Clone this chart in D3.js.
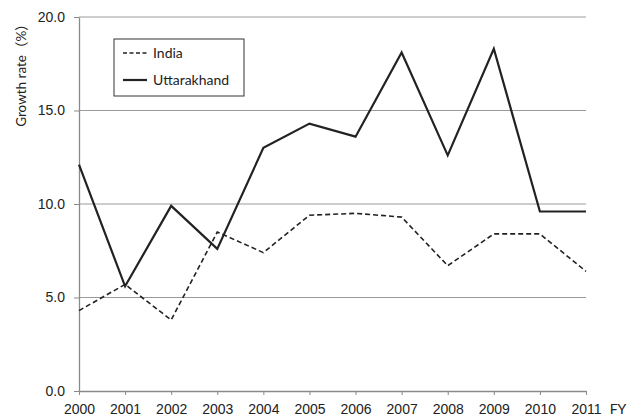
<!DOCTYPE html>
<html>
<head>
<meta charset="utf-8">
<script src="https://cdn.jsdelivr.net/npm/d3@7"></script>
<style>
  body { margin: 0; background: #fff; }
  svg { font-family: Lato, "Open Sans", "Noto Sans CJK JP", sans-serif; }
</style>
</head>
<body>
<svg id="chart"></svg>
<script>
const years = ["2000", "2001", "2002", "2003", "2004", "2005", "2006", "2007", "2008", "2009", "2010", "2011"];
const india = [4.3, 5.7, 3.8, 8.5, 7.4, 9.4, 9.5, 9.3, 6.7, 8.4, 8.4, 6.4];
const uttarakhand = [12.1, 5.6, 9.9, 7.6, 13.0, 14.3, 13.6, 18.1, 12.6, 18.3, 9.6, 9.6];
const yTicks = [0, 5, 10, 15, 20];

const width = 635, height = 418;
const margin = { top: 17, right: 49, bottom: 27, left: 79 };
const innerW = width - margin.left - margin.right;
const innerH = height - margin.top - margin.bottom;

const svg = d3.select("#chart").attr("width", width).attr("height", height);
const g = svg.append("g").attr("transform", `translate(${margin.left},${margin.top})`);

const x = d3.scalePoint().domain(years).range([0, innerW]);
const y = d3.scaleLinear().domain([0, 20]).range([innerH, 0]);

// gridlines
g.selectAll("line.grid")
    .data(yTicks.filter(d => d > 0))
    .join("line")
    .attr("class", "grid")
    .attr("x1", 0).attr("x2", innerW)
    .attr("y1", d => y(d)).attr("y2", d => y(d))
    .attr("stroke", "#9a9a9a")
    .attr("stroke-width", 1);

// axes
const xAxis = g.append("g")
    .attr("transform", `translate(0,${innerH})`)
    .call(d3.axisBottom(x).tickSizeInner(4).tickSizeOuter(0).tickPadding(9));
const yAxis = g.append("g")
    .call(d3.axisLeft(y).tickValues(yTicks).tickFormat(d3.format(".1f")).tickSizeInner(5).tickSizeOuter(0).tickPadding(9));

[xAxis, yAxis].forEach(a => {
    a.select(".domain").attr("stroke", "#8a8a8a").attr("stroke-width", 1.3);
    a.selectAll(".tick line").attr("stroke", "#8a8a8a");
    a.selectAll("text").attr("fill", "#222").style("font-size", "14px");
});

svg.append("text")
    .attr("x", 618).attr("y", height - 4)
    .attr("text-anchor", "middle")
    .attr("fill", "#222")
    .style("font-size", "14px")
    .text("FY");

svg.append("text")
    .attr("transform", "translate(26,72) rotate(-90)")
    .attr("text-anchor", "middle")
    .attr("fill", "#222")
    .style("font-size", "13.5px")
    .text("Growth rate（%）");

const line = d3.line()
    .x((d, i) => x(years[i]))
    .y(d => y(d));

g.append("path")
    .datum(india)
    .attr("d", line)
    .attr("fill", "none")
    .attr("stroke", "#222")
    .attr("stroke-width", 1.6)
    .attr("stroke-dasharray", "5,3");

g.append("path")
    .datum(uttarakhand)
    .attr("d", line)
    .attr("fill", "none")
    .attr("stroke", "#222")
    .attr("stroke-width", 2.2);

// legend
const legend = svg.append("g").attr("transform", "translate(114,39)");
legend.append("rect")
    .attr("width", 130).attr("height", 57)
    .attr("fill", "#fff")
    .attr("stroke", "#333")
    .attr("stroke-width", 1);

const items = [
    { name: "India", dash: "4,2.5", w: 1.5 },
    { name: "Uttarakhand", dash: null, w: 2.2 }
];
items.forEach((it, i) => {
    const ly = 14 + i * 27;
    legend.append("line")
        .attr("x1", 9).attr("x2", 33)
        .attr("y1", ly).attr("y2", ly)
        .attr("stroke", "#222")
        .attr("stroke-width", it.w)
        .attr("stroke-dasharray", it.dash);
    legend.append("text")
        .attr("x", 39).attr("y", ly + 5)
        .attr("fill", "#222")
        .style("font-size", "14px")
        .text(it.name);
});
</script>
</body>
</html>
